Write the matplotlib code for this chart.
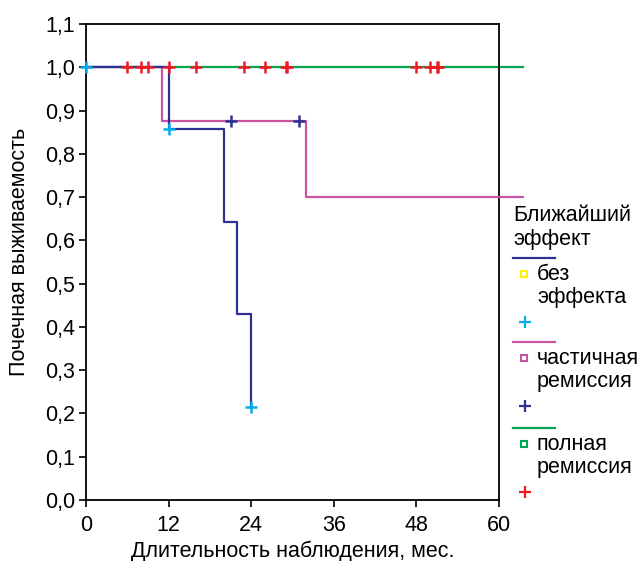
import matplotlib.pyplot as plt
from matplotlib.lines import Line2D

plt.rcParams['font.family'] = ['Liberation Sans', 'DejaVu Sans']

# ступенчатые кривые (время, доля)
no_effect_t = [0, 12, 20, 22, 24]
no_effect_s = [1.0, 0.857, 0.643, 0.429, 0.214]
no_effect_cens_t = [0, 12, 24]
no_effect_cens_s = [1.0, 0.857, 0.214]

partial_t = [0, 11, 32, 63.5]
partial_s = [1.0, 0.875, 0.70, 0.70]
partial_cens_t = [21, 31]
partial_cens_s = [0.875, 0.875]

full_t = [0, 63.5]
full_s = [1.0, 1.0]
full_cens_t = [6, 8, 9, 12, 16, 23, 26, 29, 29.2, 48, 50, 51, 51.2]
full_cens_s = [1.0] * len(full_cens_t)

x_ticks = [0, 12, 24, 36, 48, 60]
y_ticks = [i / 10 for i in range(12)]

navy = '#2e3192'
pink = '#c9549f'
green = '#00a651'
red = '#ed1c24'
cyan = '#00aeef'
yellow = '#fff200'

fs = 15.5

fig = plt.figure(figsize=(6.43, 5.61), dpi=100)
ax = fig.add_axes([86 / 643, 1 - 500 / 561, 413 / 643, 476 / 561])

lw = 1.6
ax.step(full_t, full_s, where='post', color=green, lw=lw, clip_on=False, zorder=2)
ax.step(partial_t, partial_s, where='post', color=pink, lw=lw, clip_on=False, zorder=3)
ax.step(no_effect_t, no_effect_s, where='post', color=navy, lw=lw, clip_on=False, zorder=4)

mk = dict(marker='+', linestyle='none', ms=9, mew=1.8, clip_on=False, zorder=5)
ax.plot(full_cens_t, full_cens_s, color=red, **mk)
ax.plot(partial_cens_t, partial_cens_s, color=navy, **mk)
ax.plot(no_effect_cens_t, no_effect_cens_s, color=cyan, **mk)

ax.set_xlim(0, 60)
ax.set_ylim(0, 1.1)
ax.set_xticks(x_ticks)
ax.set_xticklabels([str(v) for v in x_ticks])
ax.set_yticks(y_ticks)
ax.set_yticklabels([f'{v:.1f}'.replace('.', ',') for v in y_ticks])
ax.tick_params(direction='out', length=5, width=1.2, labelsize=fs)
ax.tick_params(axis='x', pad=6)
ax.tick_params(axis='y', pad=3)
for s in ax.spines.values():
    s.set_linewidth(1.3)
ax.set_xlabel('Длительность наблюдения, мес.', fontsize=fs, labelpad=3)

# легенда справа
def fx(px):
    return px / 643

def fy(py):
    return 1 - py / 561

fig.text(fx(20), fy(252), 'Почечная выживаемость', fontsize=fs, rotation=90,
         ha='center', va='center')

fig.text(fx(513), fy(215), 'Ближайший', fontsize=fs, va='center')
fig.text(fx(513), fy(240), 'эффект', fontsize=fs, va='center')

groups = [
    (navy, yellow, ['без', 'эффекта'], cyan, 258),
    (pink, pink, ['частичная', 'ремиссия'], navy, 342),
]
groups.append((green, green, ['полная', 'ремиссия'], red, 428))
for line_c, sq_c, words, cens_c, y0 in groups:
    fig.add_artist(Line2D([fx(513), fx(555)], [fy(y0), fy(y0)], color=line_c, lw=1.6))
    fig.add_artist(Line2D([fx(524)], [fy(y0 + 16)], marker='s', ms=4.5, mfc='white',
                          mec=sq_c, mew=1.5, linestyle='none'))
    fig.text(fx(537), fy(y0 + 16), words[0], fontsize=fs, va='center')
    fig.text(fx(537), fy(y0 + 40), words[1], fontsize=fs, va='center')
    fig.add_artist(Line2D([fx(525)], [fy(y0 + 64)], marker='+', ms=8, mew=1.6,
                          color=cens_c, linestyle='none'))

fig.savefig('out.png', dpi=100)
